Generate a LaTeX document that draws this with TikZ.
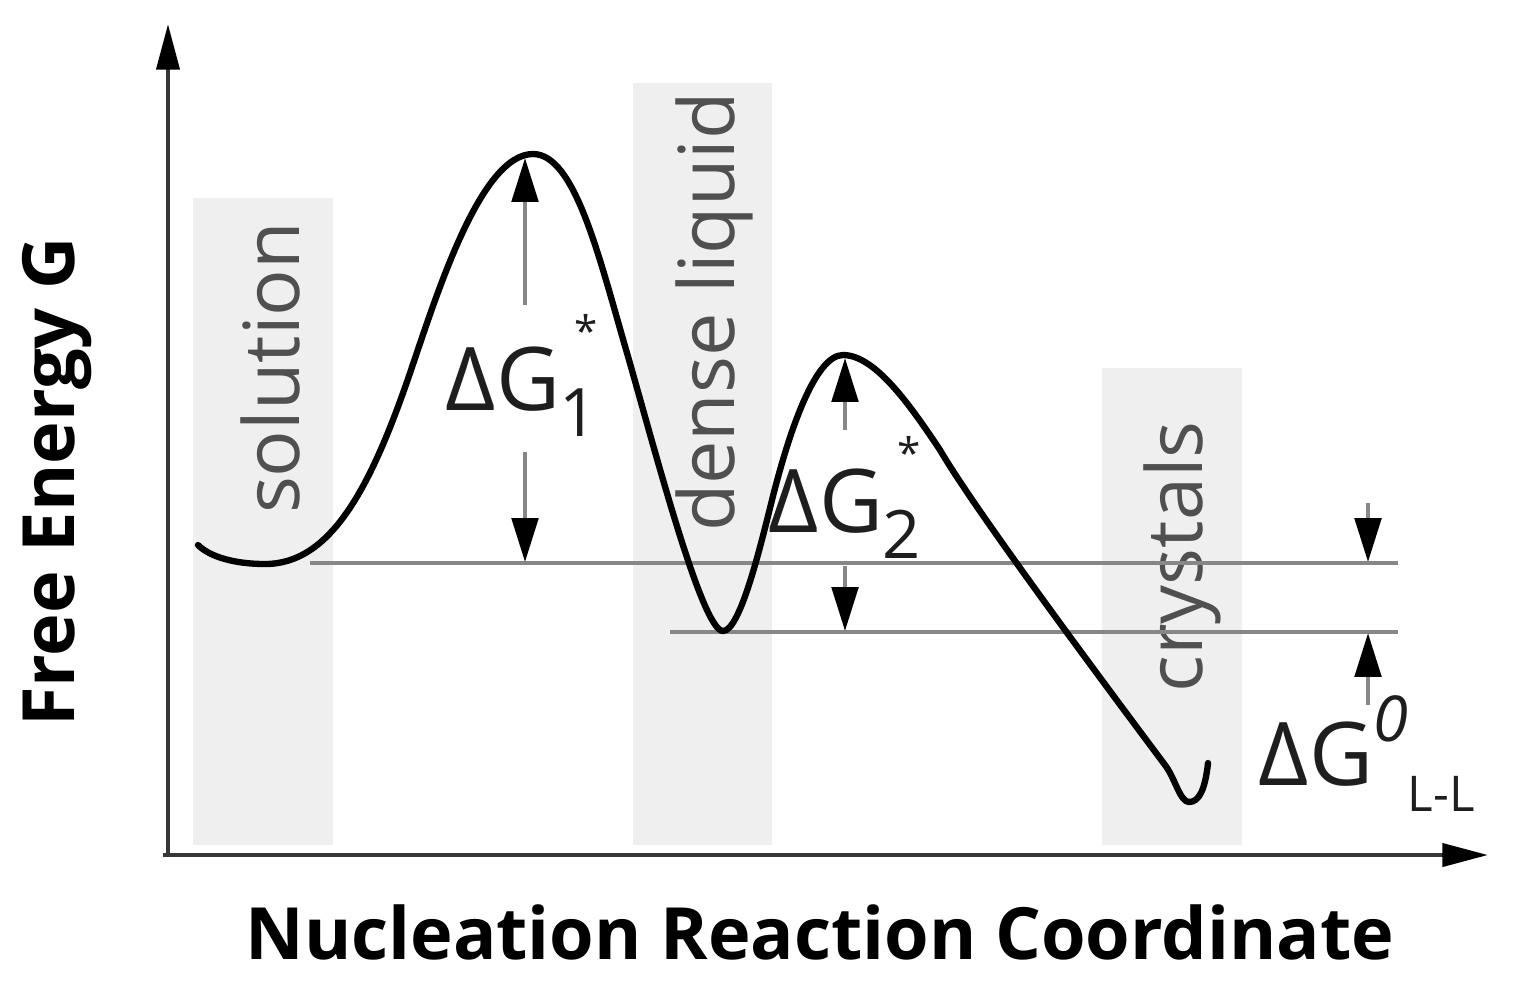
\documentclass[tikz,border=0pt]{standalone}
\usepackage{fontspec}
\setmainfont{Open Sans}
\usepackage{tikz}
\usetikzlibrary{arrows.meta, positioning}
\definecolor{bandgray}{RGB}{239,239,239}
\definecolor{axisgray}{RGB}{55,55,55}
\definecolor{levelgray}{RGB}{135,135,135}
\definecolor{labelgray}{RGB}{80,80,80}
\definecolor{dgblack}{RGB}{30,30,30}

% barrier label: Delta G with subscript and small star
\newcommand{\barrier}[1]{ΔG\rlap{\hspace{4pt}\raisebox{0.72em}{\fontsize{12}{12}\selectfont *}}\raisebox{-0.3em}{\fontsize{19}{19}\selectfont #1}}

\begin{document}
\begin{tikzpicture}[x=0.01cm, y=-0.01cm]
      % Styles
      \tikzset{band/.style={fill=bandgray}}
      \tikzset{bandlabel/.style={rotate=90, text=labelgray, font=\fontsize{22}{22}\selectfont, inner sep=0pt}}
      \tikzset{axis/.style={draw=axisgray, line width=1.3pt, -{Triangle[length=13pt, width=6.5pt, color=black]}}}
      \tikzset{axistitle/.style={text=black, font=\bfseries\fontsize{20.5}{20.5}\selectfont, inner sep=0pt}}
      \tikzset{level/.style={draw=levelgray, line width=1.1pt}}
      \tikzset{curve/.style={draw=black, line width=1.8pt, line cap=round, line join=round}}
      \tikzset{dimarrow/.style={draw=levelgray, line width=1.2pt, -{Triangle[length=12.5pt, width=7.5pt, color=black]}}}
      \tikzset{dglabel/.style={text=dgblack, font=\fontsize{25}{25}\selectfont, inner sep=0pt}}

      \useasboundingbox (0,0) rectangle (1513,1002);

      % --- Phase bands ---
      \fill[band] (193,198) rectangle (333,845);
      \fill[band] (633,83) rectangle (772,845);
      \fill[band] (1102,368) rectangle (1242,845);
      \node[bandlabel] (solution) at (270,368) {solution};
      \node[bandlabel] (dense) at (714,312) {dense liquid};
      \node[bandlabel] (crystals) at (1182,557) {crystals};

      % --- Reference levels ---
      \coordinate (levelL) at (310,563);
      \coordinate (levelR) at (1398,563);
      \coordinate (dropL) at (670,632);
      \coordinate (dropR) at (1398,632);
      \draw[level] (levelL) -- (levelR);
      \draw[level] (dropL) -- (dropR);

      % --- Free energy profile ---
      \coordinate (minSol) at (265,564);
      \coordinate (topA) at (533,154);
      \coordinate (minLiq) at (723,631);
      \coordinate (topB) at (843,355);
      \coordinate (minCry) at (1189,802);
      \draw[curve] (198,545) .. controls (210,557) and (235,564) .. (minSol)
        .. controls (330,564) and (370,490) .. (410,373)
        .. controls (436,297) and (480,154) .. (topA)
        .. controls (575,154) and (599,257) .. (627,353)
        .. controls (655,450) and (702,631) .. (minLiq)
        .. controls (740,631) and (760,548) .. (772,500)
        .. controls (789,432) and (815,355) .. (topB)
        .. controls (875,355) and (910,405) .. (940,450)
        .. controls (975,510) and (1100,678) .. (1165,765)
        .. controls (1175,778) and (1180,802) .. (minCry)
        .. controls (1199,802) and (1205,790) .. (1208,763);

      % --- Axes ---
      \coordinate (origin) at (168,855);
      \coordinate (xstart) at (163,855);
      \coordinate (xend) at (1488,855);
      \coordinate (ytop) at (168,24);
      \draw[axis] (xstart) -- (xend);
      \draw[axis] (origin) -- (ytop);
      \node[axistitle, rotate=90] (ylabel) at (57,482) {Free Energy G};
      \node[axistitle] (xlabel) at (820,932) {Nucleation Reaction Coordinate};

      % --- Barrier 1 ---
      \node[dglabel, anchor=base west] (dgA) at (445,410) {\barrier{1}};
      \coordinate (tailAup) at (525,305);
      \coordinate (peakA) at (525,158);
      \coordinate (tailAdn) at (525,452);
      \coordinate (baseA) at (525,562);
      \draw[dimarrow] (tailAup) -- (peakA);
      \draw[dimarrow] (tailAdn) -- (baseA);

      % --- Barrier 2 ---
      \node[dglabel, anchor=base west] (dgB) at (768,532) {\barrier{2}};
      \coordinate (tailBup) at (845,430);
      \coordinate (peakB) at (845,358);
      \coordinate (tailBdn) at (845,566);
      \coordinate (baseB) at (845,631);
      \draw[dimarrow] (tailBup) -- (peakB);
      \draw[dimarrow] (tailBdn) -- (baseB);

      % --- Liquid-liquid difference ---
      \node[dglabel, anchor=base west] (dgC) at (1258,785)
        {ΔG\raisebox{0.5em}{\fontsize{18}{18}\selectfont\itshape 0}\raisebox{-0.3em}{\fontsize{14}{14}\selectfont L-L}};
      \coordinate (tailCdn) at (1368,503);
      \coordinate (topC) at (1368,562);
      \coordinate (tailCup) at (1368,705);
      \coordinate (botC) at (1368,633);
      \draw[dimarrow] (tailCdn) -- (topC);
      \draw[dimarrow] (tailCup) -- (botC);

    \end{tikzpicture}
\end{document}
